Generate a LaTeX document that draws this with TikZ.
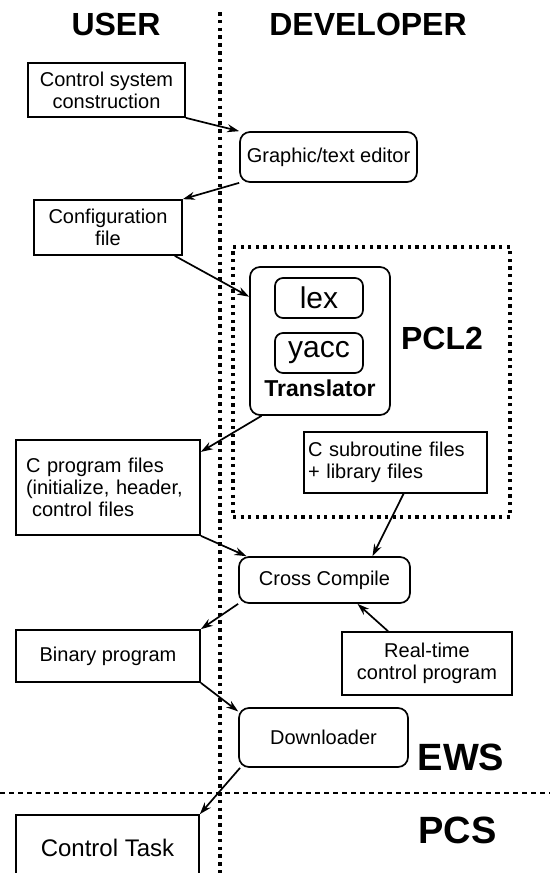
\documentclass[tikz,border=0pt]{standalone}
\usepackage{fontspec}
\setmainfont{Liberation Sans}
\usetikzlibrary{arrows.meta,positioning}

\begin{document}
\begin{tikzpicture}[x=1pt,y=-1pt,>={Stealth[length=12pt,width=8pt]},
  line width=1.7pt,
  plain box/.style={draw,rectangle,inner sep=4pt,font=\fontsize{20}{22}\selectfont},
  round box/.style={plain box,rounded corners=10pt},
  group box/.style={draw,rectangle,line width=3.2pt,dash pattern=on 3.2pt off 4.4pt},
  side line/.style={line width=3.6pt,dash pattern=on 3.6pt off 4.2pt},
  stage line/.style={line width=2.2pt,dash pattern=on 5pt off 4pt},
  big label/.style={font=\fontsize{32}{36}\selectfont\bfseries},
  stage label/.style={font=\fontsize{38}{42}\selectfont\bfseries}]

\useasboundingbox (0,0) rectangle (550,873);

\node[big label] (user) at (116,24) {USER};
\node[big label] (developer) at (368,24) {DEVELOPER};

\node[plain box,minimum width=157pt,minimum height=54pt,align=center] (ctrlsys) at (106.5,90) {Control system\\construction};
\node[round box,minimum width=177pt,minimum height=50pt] (editor) at (328.5,157) {Graphic/text editor};
\node[plain box,minimum width=148pt,minimum height=55pt,align=center] (config) at (108,227.5) {Configuration\\file};

% PCL2 group with the translator inside
\node[group box,minimum width=277pt,minimum height=270pt] (pcl) at (371.5,382) {};
\node[big label] (pcllabel) at (442,338) {PCL2};
\node[round box,minimum width=140pt,minimum height=148pt] (translator) at (320,341) {};
\node[round box,rounded corners=8pt,minimum width=88pt,minimum height=40pt,font=\fontsize{30}{32}\selectfont] (lex) at (319,298) {lex};
\node[round box,rounded corners=8pt,minimum width=88pt,minimum height=40pt,font=\fontsize{30}{32}\selectfont] (yacc) at (319,353) {yacc};
\node[font=\fontsize{23}{26}\selectfont\bfseries] (translabel) at (320,388) {Translator};

\node[plain box,text width=164pt,inner xsep=10pt,minimum height=95pt,align=left] (cprog) at (108,487.5) {C program files\\(initialize, header,\\\hspace*{6pt}control files};
\node[plain box,text width=175pt,inner xsep=4pt,minimum height=61pt,align=left] (csub) at (395.5,462.5) {C subroutine files\\+ library files};

\node[round box,minimum width=171pt,minimum height=46pt] (cross) at (324.5,580) {Cross Compile};
\node[plain box,minimum width=184pt,minimum height=52pt] (binary) at (108,656) {Binary program};
\node[plain box,minimum width=170pt,minimum height=63pt,align=center] (realtime) at (427,663.5) {Real-time\\control program};
\node[round box,minimum width=169pt,minimum height=59pt] (download) at (323.5,737.5) {Downloader};
\node[plain box,minimum width=183pt,minimum height=66pt,font=\fontsize{24}{26}\selectfont] (ctask) at (107.5,848) {Control Task};

\node[stage label] (ews) at (461,757) {EWS};
\node[stage label] (pcs) at (457.5,830) {PCS};

\draw[side line] (220,12) -- (220,873);
\draw[stage line] (0,793) -- (550,793);

\path[->]
(ctrlsys.south east) edge (editor.north west)
(editor.south west) edge (config.north east)
(config.-23) edge (translator.148)
(translator.232) edge (cprog.21)
(cprog.south east) edge (cross.163)
([xshift=8pt]csub.south) edge ([xshift=48pt]cross.north)
(cross.south west) edge (binary.north east)
([xshift=-39pt]realtime.north) edge ([xshift=33pt]cross.south)
(binary.south east) edge (download.163)
(download.200) edge (ctask.north east);
\end{tikzpicture}
\end{document}
